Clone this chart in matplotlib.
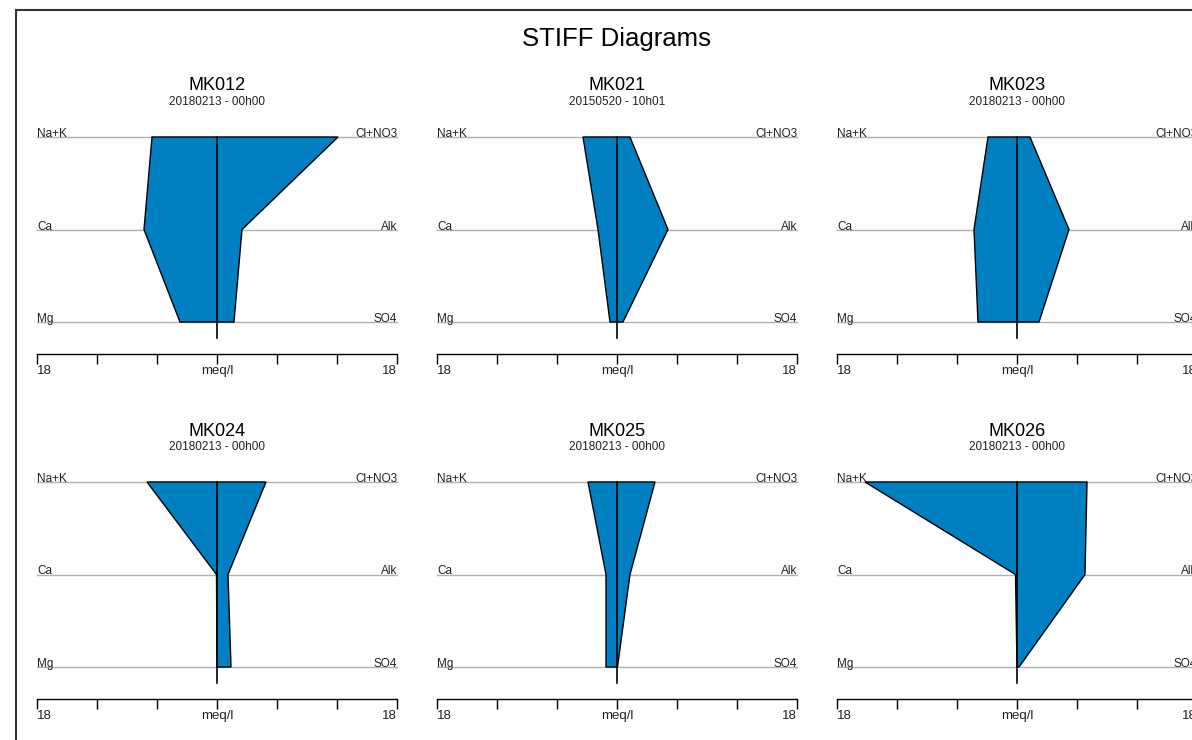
import matplotlib
matplotlib.use("Agg")
import matplotlib.pyplot as plt
from matplotlib.patches import Rectangle

plt.rcParams['font.family'] = ['Liberation Sans', 'DejaVu Sans']

# station data, meq/l
stations = ['MK012', 'MK021', 'MK023', 'MK024', 'MK025', 'MK026']
dates = ['20180213 - 00h00', '20150520 - 10h01', '20180213 - 00h00',
         '20180213 - 00h00', '20180213 - 00h00', '20180213 - 00h00']
na_k = [6.5, 3.4, 2.9, 7.0, 2.9, 15.2]
ca = [7.3, 1.9, 4.3, 0.05, 1.1, 0.15]
mg = [3.7, 0.7, 3.9, 0.0, 1.1, 0.0]
cl_no3 = [12.1, 1.3, 1.3, 4.9, 3.8, 7.0]
alk = [2.5, 5.1, 5.2, 1.1, 1.3, 6.8]
so4 = [1.7, 0.6, 2.2, 1.4, 0.05, 0.2]

cations = ['Na+K', 'Ca', 'Mg']
anions = ['Cl+NO3', 'Alk', 'SO4']
scale_max = 18
ticks = [-18, -12, -6, 0, 6, 12, 18]
tick_labels = ['18', '', '', 'meq/l', '', '', '18']

W, H = 1192, 740
fig = plt.figure(figsize=(W / 100, H / 100), dpi=100)
fig.patch.set_facecolor('white')

# outer frame (cut by the screenshot on right and bottom)
fig.patches.append(Rectangle((16 / W, -0.1), 1.2, 1.1 - 10 / H, transform=fig.transFigure,
                             fill=False, ec='#333333', lw=1.5))

fig.text(617 / W, 1 - 39 / H, 'STIFF Diagrams', ha='center', va='center', fontsize=18.5)

fill_col = '#0080C0'
txt_col = '#222222'

for i, name in enumerate(stations):
    row, col = divmod(i, 3)
    x0 = 37 + 400 * col
    y_top = 137 + 345 * row
    y_bot = 322 + 345 * row
    ax = fig.add_axes([x0 / W, 1 - y_bot / H, 360 / W, (y_bot - y_top) / H])
    ax.set_xlim(-scale_max, scale_max)
    ax.set_ylim(1, 3)

    levels = [3, 2, 1]
    for y in levels:
        ax.plot([-scale_max, scale_max], [y, y], color='#b0b0b0', lw=1, clip_on=False, zorder=1)

    left = [-na_k[i], -ca[i], -mg[i]]
    right = [so4[i], alk[i], cl_no3[i]]
    xs = left + right
    ys = levels + levels[::-1]
    ax.fill(xs, ys, facecolor=fill_col, edgecolor='black', lw=1, zorder=2, clip_on=False)

    ax.plot([0, 0], [3, 1 - 16 / 92.5], color='black', lw=1.2, zorder=3, clip_on=False)

    for lab, y in zip(cations, levels):
        ax.text(-scale_max, y, lab, ha='left', va='baseline', fontsize=8.5, color=txt_col)
    for lab, y in zip(anions, levels):
        ax.text(scale_max, y, lab, ha='right', va='baseline', fontsize=8.5, color=txt_col)

    # meq/l scale as the real x axis
    for s in ['left', 'right', 'top']:
        ax.spines[s].set_visible(False)
    ax.spines['bottom'].set_position(('outward', 23))
    ax.spines['bottom'].set_linewidth(1)
    ax.set_yticks([])
    ax.set_xticks(ticks)
    ax.set_xticklabels(tick_labels, fontsize=9.5, color=txt_col)
    ax.tick_params(axis='x', direction='out', length=7, width=1, pad=1)
    labs = ax.get_xticklabels()
    labs[0].set_ha('left')
    labs[-1].set_ha('right')
    ax.patch.set_alpha(0)

    cx = (x0 + 180) / W
    fig.text(cx, 1 - (86 + 345 * row) / H, name, ha='center', va='center', fontsize=13)
    fig.text(cx, 1 - (102 + 345 * row) / H, dates[i], ha='center', va='center', fontsize=8.5,
             color=txt_col)

fig.savefig('out.png', dpi=100)
